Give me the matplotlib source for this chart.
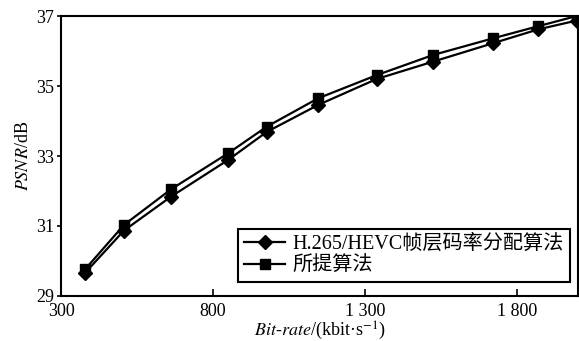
import matplotlib
matplotlib.use('Agg')
import matplotlib.pyplot as plt

# 数据
bitrate = [379, 507, 662, 850, 977, 1146, 1338, 1525, 1720, 1870, 1996]
psnr_hevc = [29.66, 30.87, 31.84, 32.89, 33.69, 34.46, 35.20, 35.70, 36.22, 36.62, 36.87]
psnr_prop = [29.76, 31.03, 32.05, 33.08, 33.84, 34.65, 35.31, 35.89, 36.36, 36.71, 37.00]
labels = ['H.265/HEVC帧层码率分配算法', '所提算法']
xticks = [300, 800, 1300, 1800]
xtick_labels = ['300', '800', '1 300', '1 800']
yticks = [29, 31, 33, 35, 37]

plt.rcParams['font.family'] = ['Liberation Serif', 'Noto Sans CJK SC']
plt.rcParams['mathtext.fontset'] = 'stix'
plt.rcParams['font.size'] = 13

fig = plt.figure(figsize=(5.79, 3.41), dpi=100)
ax = fig.add_axes([0.1054, 0.132, 0.8926, 0.821])

ax.plot(bitrate, psnr_hevc, color='black', lw=1.6, marker='D', ms=7, label=labels[0])
ax.plot(bitrate, psnr_prop, color='black', lw=1.6, marker='s', ms=7, label=labels[1])

ax.set_xlim(300, 2000)
ax.set_ylim(29, 37)
ax.set_xticks(xticks)
ax.set_xticklabels(xtick_labels)
ax.set_yticks(yticks)
ax.tick_params(axis='x', direction='in', length=5, width=1.2, pad=5)
ax.tick_params(axis='y', direction='out', length=3, width=1.2, pad=2)
for s in ax.spines.values():
    s.set_linewidth(1.5)

ax.set_xlabel(r'$Bit$-$rate$/(kbit·s$^{-1}$)', labelpad=0)
ax.set_ylabel(r'$PSNR$/dB', labelpad=3)

leg = ax.legend(loc='lower right', bbox_to_anchor=(0.985, 0.05), fancybox=False,
                edgecolor='black', framealpha=1, fontsize=14.5, handlelength=2.0,
                handletextpad=0.4, borderpad=0.3, labelspacing=0.15, borderaxespad=0)
leg.get_frame().set_linewidth(1.5)

plt.savefig('out.png', dpi=100)
